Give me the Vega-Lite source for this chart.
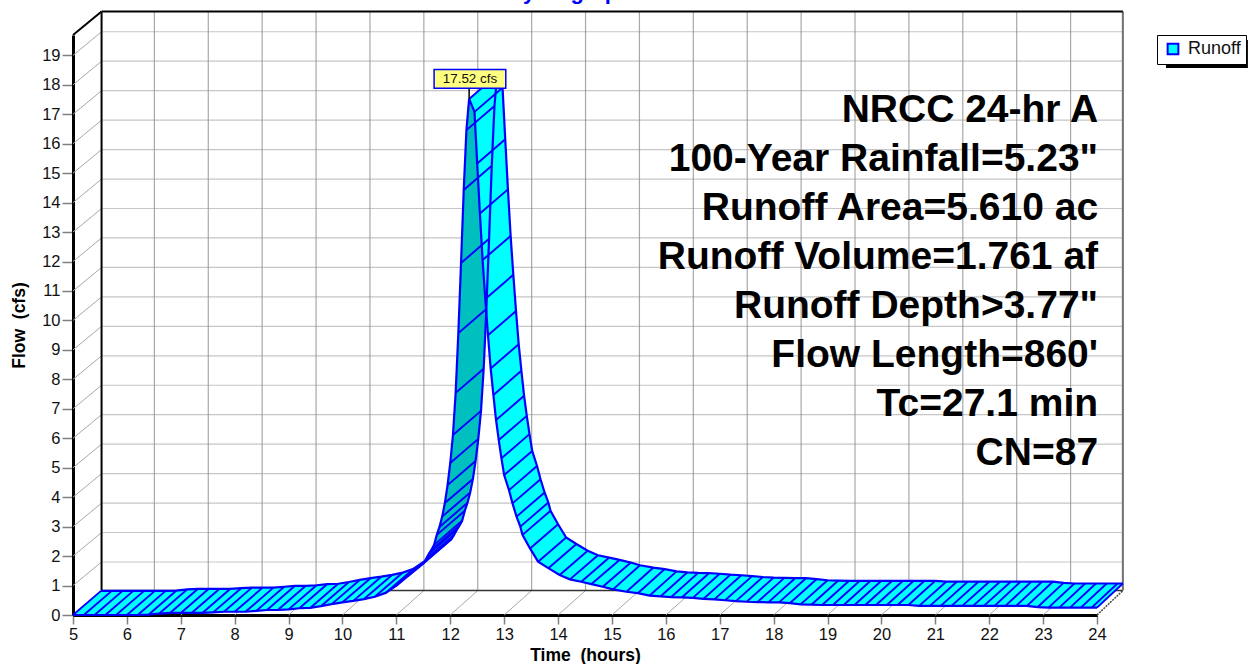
{"$schema":"https://vega.github.io/schema/vega-lite/v6.json","width":1024,"height":580,"autosize":{"type":"none"},"padding":{"left":73,"top":35,"right":151,"bottom":49},"background":"white","config":{"view":{"stroke":null},"font":"Liberation Sans"},
"datasets":{
"curve":[{"i":0,"o":0,"t":5,"q":0},{"i":1,"o":1,"t":5.2,"q":0},{"i":2,"o":2,"t":5.4,"q":0},{"i":3,"o":3,"t":5.6,"q":0},{"i":4,"o":4,"t":5.8,"q":0},{"i":5,"o":5,"t":6,"q":0},{"i":6,"o":6,"t":6.2,"q":0},{"i":7,"o":7,"t":6.4,"q":0.01},{"i":8,"o":8,"t":6.6,"q":0.05},{"i":9,"o":9,"t":6.8,"q":0.07},{"i":10,"o":10,"t":7,"q":0.07},{"i":11,"o":11,"t":7.2,"q":0.07},{"i":12,"o":12,"t":7.4,"q":0.07},{"i":13,"o":13,"t":7.6,"q":0.09},{"i":14,"o":14,"t":7.8,"q":0.11},{"i":15,"o":15,"t":8,"q":0.11},{"i":16,"o":16,"t":8.2,"q":0.11},{"i":17,"o":17,"t":8.4,"q":0.14},{"i":18,"o":18,"t":8.6,"q":0.17},{"i":19,"o":19,"t":8.8,"q":0.17},{"i":20,"o":20,"t":9,"q":0.19},{"i":21,"o":21,"t":9.2,"q":0.23},{"i":22,"o":22,"t":9.4,"q":0.24},{"i":23,"o":23,"t":9.6,"q":0.3},{"i":24,"o":24,"t":9.8,"q":0.37},{"i":25,"o":25,"t":10,"q":0.43},{"i":26,"o":26,"t":10.2,"q":0.48},{"i":27,"o":27,"t":10.4,"q":0.54},{"i":28,"o":28,"t":10.6,"q":0.62},{"i":29,"o":29,"t":10.8,"q":0.75},{"i":30,"o":30,"t":11,"q":1},{"i":31,"o":31,"t":11.2,"q":1.3},{"i":32,"o":32,"t":11.4,"q":1.6},{"i":33,"o":33,"t":11.5,"q":1.75},{"i":34,"o":34,"t":11.55,"q":1.9},{"i":35,"o":35,"t":11.6,"q":2.07},{"i":36,"o":36,"t":11.65,"q":2.21},{"i":37,"o":37,"t":11.7,"q":2.38},{"i":38,"o":38,"t":11.75,"q":2.72},{"i":39,"o":39,"t":11.8,"q":2.99},{"i":40,"o":40,"t":11.85,"q":3.34},{"i":41,"o":41,"t":11.9,"q":3.8},{"i":42,"o":42,"t":11.95,"q":4.41},{"i":43,"o":43,"t":12,"q":5.16},{"i":44,"o":44,"t":12.05,"q":6.11},{"i":45,"o":45,"t":12.1,"q":7.54},{"i":46,"o":46,"t":12.15,"q":9.57},{"i":47,"o":47,"t":12.2,"q":11.95},{"i":48,"o":48,"t":12.25,"q":14.43},{"i":49,"o":49,"t":12.3,"q":16.46},{"i":50,"o":50,"t":12.35,"q":17.52},{"i":51,"o":51,"t":12.45,"q":17.08},{"i":52,"o":52,"t":12.5,"q":15.33},{"i":53,"o":53,"t":12.55,"q":13.63},{"i":54,"o":54,"t":12.6,"q":12.05},{"i":55,"o":55,"t":12.65,"q":10.73},{"i":56,"o":56,"t":12.7,"q":9.5},{"i":57,"o":57,"t":12.75,"q":8.37},{"i":58,"o":58,"t":12.8,"q":7.47},{"i":59,"o":59,"t":12.85,"q":6.62},{"i":60,"o":60,"t":12.9,"q":5.94},{"i":61,"o":61,"t":12.95,"q":5.32},{"i":62,"o":62,"t":13,"q":4.75},{"i":63,"o":63,"t":13.09,"q":4.24},{"i":64,"o":64,"t":13.155,"q":3.79},{"i":65,"o":65,"t":13.23,"q":3.34},{"i":66,"o":66,"t":13.3,"q":3},{"i":67,"o":67,"t":13.34,"q":2.72},{"i":68,"o":68,"t":13.48,"q":2.26},{"i":69,"o":69,"t":13.63,"q":1.81},{"i":70,"o":70,"t":13.82,"q":1.59},{"i":71,"o":71,"t":14.03,"q":1.36},{"i":72,"o":72,"t":14.22,"q":1.21},{"i":73,"o":73,"t":14.43,"q":1.13},{"i":74,"o":74,"t":14.62,"q":1.05},{"i":75,"o":75,"t":14.83,"q":0.96},{"i":76,"o":76,"t":15.02,"q":0.87},{"i":77,"o":77,"t":15.27,"q":0.79},{"i":78,"o":78,"t":15.48,"q":0.74},{"i":79,"o":79,"t":15.7,"q":0.66},{"i":80,"o":80,"t":15.9,"q":0.63},{"i":81,"o":81,"t":16.1,"q":0.61},{"i":82,"o":82,"t":16.3,"q":0.6},{"i":83,"o":83,"t":16.5,"q":0.58},{"i":84,"o":84,"t":16.7,"q":0.55},{"i":85,"o":85,"t":16.9,"q":0.53},{"i":86,"o":86,"t":17.1,"q":0.5},{"i":87,"o":87,"t":17.3,"q":0.47},{"i":88,"o":88,"t":17.5,"q":0.45},{"i":89,"o":89,"t":17.7,"q":0.44},{"i":90,"o":90,"t":17.9,"q":0.43},{"i":91,"o":91,"t":18.1,"q":0.43},{"i":92,"o":92,"t":18.3,"q":0.4},{"i":93,"o":93,"t":18.5,"q":0.36},{"i":94,"o":94,"t":18.7,"q":0.35},{"i":95,"o":95,"t":18.9,"q":0.34},{"i":96,"o":96,"t":19.1,"q":0.34},{"i":97,"o":97,"t":19.3,"q":0.34},{"i":98,"o":98,"t":19.5,"q":0.34},{"i":99,"o":99,"t":19.7,"q":0.34},{"i":100,"o":100,"t":19.9,"q":0.34},{"i":101,"o":101,"t":20.1,"q":0.34},{"i":102,"o":102,"t":20.3,"q":0.34},{"i":103,"o":103,"t":20.5,"q":0.34},{"i":104,"o":104,"t":20.7,"q":0.31},{"i":105,"o":105,"t":20.9,"q":0.31},{"i":106,"o":106,"t":21.1,"q":0.31},{"i":107,"o":107,"t":21.3,"q":0.31},{"i":108,"o":108,"t":21.5,"q":0.31},{"i":109,"o":109,"t":21.7,"q":0.31},{"i":110,"o":110,"t":21.9,"q":0.31},{"i":111,"o":111,"t":22.1,"q":0.31},{"i":112,"o":112,"t":22.3,"q":0.31},{"i":113,"o":113,"t":22.5,"q":0.31},{"i":114,"o":114,"t":22.7,"q":0.31},{"i":115,"o":115,"t":22.9,"q":0.27},{"i":116,"o":116,"t":23.1,"q":0.25},{"i":117,"o":117,"t":23.3,"q":0.25},{"i":118,"o":118,"t":23.5,"q":0.25},{"i":119,"o":119,"t":23.7,"q":0.25},{"i":120,"o":120,"t":23.9,"q":0.25},{"i":121,"o":121,"t":24,"q":0.25},
{"i":121,"o":878,"t":24.48,"q":1.07},{"i":120,"o":879,"t":24.38,"q":1.07},{"i":119,"o":880,"t":24.18,"q":1.07},{"i":118,"o":881,"t":23.98,"q":1.07},{"i":117,"o":882,"t":23.78,"q":1.07},{"i":116,"o":883,"t":23.58,"q":1.07},{"i":115,"o":884,"t":23.38,"q":1.09},{"i":114,"o":885,"t":23.18,"q":1.13},{"i":113,"o":886,"t":22.98,"q":1.13},{"i":112,"o":887,"t":22.78,"q":1.13},{"i":111,"o":888,"t":22.58,"q":1.13},{"i":110,"o":889,"t":22.4,"q":1.13},{"i":109,"o":890,"t":22.2,"q":1.13},{"i":108,"o":891,"t":22,"q":1.13},{"i":107,"o":892,"t":21.8,"q":1.13},{"i":106,"o":893,"t":21.6,"q":1.13},{"i":105,"o":894,"t":21.4,"q":1.13},{"i":104,"o":895,"t":21.2,"q":1.13},{"i":103,"o":896,"t":21,"q":1.16},{"i":102,"o":897,"t":20.8,"q":1.16},{"i":101,"o":898,"t":20.6,"q":1.16},{"i":100,"o":899,"t":20.4,"q":1.16},{"i":99,"o":900,"t":20.2,"q":1.16},{"i":98,"o":901,"t":20,"q":1.16},{"i":97,"o":902,"t":19.8,"q":1.16},{"i":96,"o":903,"t":19.6,"q":1.16},{"i":95,"o":904,"t":19.4,"q":1.16},{"i":94,"o":905,"t":19.2,"q":1.17},{"i":93,"o":906,"t":19,"q":1.18},{"i":92,"o":907,"t":18.8,"q":1.22},{"i":91,"o":908,"t":18.6,"q":1.25},{"i":90,"o":909,"t":18.4,"q":1.25},{"i":89,"o":910,"t":18.2,"q":1.26},{"i":88,"o":911,"t":18,"q":1.27},{"i":87,"o":912,"t":17.8,"q":1.29},{"i":86,"o":913,"t":17.6,"q":1.32},{"i":85,"o":914,"t":17.4,"q":1.35},{"i":84,"o":915,"t":17.2,"q":1.37},{"i":83,"o":916,"t":17,"q":1.4},{"i":82,"o":917,"t":16.8,"q":1.42},{"i":81,"o":918,"t":16.6,"q":1.43},{"i":80,"o":919,"t":16.4,"q":1.45},{"i":79,"o":920,"t":16.2,"q":1.48},{"i":78,"o":921,"t":15.98,"q":1.56},{"i":77,"o":922,"t":15.77,"q":1.61},{"i":76,"o":923,"t":15.52,"q":1.69},{"i":75,"o":924,"t":15.35,"q":1.78},{"i":74,"o":925,"t":15.14,"q":1.87},{"i":73,"o":926,"t":14.95,"q":1.95},{"i":72,"o":927,"t":14.74,"q":2.03},{"i":71,"o":928,"t":14.55,"q":2.18},{"i":70,"o":929,"t":14.34,"q":2.41},{"i":69,"o":930,"t":14.15,"q":2.63},{"i":68,"o":931,"t":14,"q":3.08},{"i":67,"o":932,"t":13.86,"q":3.54},{"i":66,"o":933,"t":13.82,"q":3.82},{"i":65,"o":934,"t":13.75,"q":4.16},{"i":64,"o":935,"t":13.675,"q":4.61},{"i":63,"o":936,"t":13.61,"q":5.06},{"i":62,"o":937,"t":13.52,"q":5.57},{"i":61,"o":938,"t":13.47,"q":6.14},{"i":60,"o":939,"t":13.42,"q":6.76},{"i":59,"o":940,"t":13.37,"q":7.44},{"i":58,"o":941,"t":13.32,"q":8.29},{"i":57,"o":942,"t":13.27,"q":9.19},{"i":56,"o":943,"t":13.22,"q":10.32},{"i":55,"o":944,"t":13.17,"q":11.55},{"i":54,"o":945,"t":13.12,"q":12.87},{"i":53,"o":946,"t":13.07,"q":14.45},{"i":52,"o":947,"t":13.02,"q":16.15},{"i":51,"o":948,"t":12.97,"q":17.9},{"i":50,"o":949,"t":12.87,"q":18.34},{"i":49,"o":950,"t":12.82,"q":17.28},{"i":48,"o":951,"t":12.77,"q":15.25},{"i":47,"o":952,"t":12.72,"q":12.77},{"i":46,"o":953,"t":12.67,"q":10.39},{"i":45,"o":954,"t":12.62,"q":8.36},{"i":44,"o":955,"t":12.57,"q":6.93},{"i":43,"o":956,"t":12.52,"q":5.98},{"i":42,"o":957,"t":12.47,"q":5.23},{"i":41,"o":958,"t":12.42,"q":4.62},{"i":40,"o":959,"t":12.37,"q":4.16},{"i":39,"o":960,"t":12.32,"q":3.81},{"i":38,"o":961,"t":12.27,"q":3.54},{"i":37,"o":962,"t":12.22,"q":3.2},{"i":36,"o":963,"t":12.17,"q":3.03},{"i":35,"o":964,"t":12.12,"q":2.89},{"i":34,"o":965,"t":12.07,"q":2.72},{"i":33,"o":966,"t":12.02,"q":2.57},{"i":32,"o":967,"t":11.92,"q":2.42},{"i":31,"o":968,"t":11.72,"q":2.12},{"i":30,"o":969,"t":11.52,"q":1.82},{"i":29,"o":970,"t":11.32,"q":1.57},{"i":28,"o":971,"t":11.12,"q":1.44},{"i":27,"o":972,"t":10.92,"q":1.36},{"i":26,"o":973,"t":10.72,"q":1.3},{"i":25,"o":974,"t":10.52,"q":1.25},{"i":24,"o":975,"t":10.32,"q":1.19},{"i":23,"o":976,"t":10.12,"q":1.12},{"i":22,"o":977,"t":9.92,"q":1.06},{"i":21,"o":978,"t":9.72,"q":1.05},{"i":20,"o":979,"t":9.52,"q":1.01},{"i":19,"o":980,"t":9.32,"q":0.99},{"i":18,"o":981,"t":9.12,"q":0.99},{"i":17,"o":982,"t":8.92,"q":0.96},{"i":16,"o":983,"t":8.72,"q":0.93},{"i":15,"o":984,"t":8.52,"q":0.93},{"i":14,"o":985,"t":8.32,"q":0.93},{"i":13,"o":986,"t":8.12,"q":0.91},{"i":12,"o":987,"t":7.92,"q":0.89},{"i":11,"o":988,"t":7.72,"q":0.89},{"i":10,"o":989,"t":7.52,"q":0.89},{"i":9,"o":990,"t":7.32,"q":0.89},{"i":8,"o":991,"t":7.12,"q":0.87},{"i":7,"o":992,"t":6.92,"q":0.83},{"i":6,"o":993,"t":6.72,"q":0.82},{"i":5,"o":994,"t":6.52,"q":0.82},{"i":4,"o":995,"t":6.32,"q":0.82},{"i":3,"o":996,"t":6.12,"q":0.82},{"i":2,"o":997,"t":5.92,"q":0.82},{"i":1,"o":998,"t":5.72,"q":0.82},{"i":0,"o":999,"t":5.52,"q":0.82}],
"grid":[{"s":"h","a":5.53,"b":1.8,"c":24.48,"d":1.8},{"s":"h","a":5.53,"b":2.8,"c":24.48,"d":2.8},{"s":"h","a":5.53,"b":3.8,"c":24.48,"d":3.8},{"s":"h","a":5.53,"b":4.8,"c":24.48,"d":4.8},{"s":"h","a":5.53,"b":5.8,"c":24.48,"d":5.8},{"s":"h","a":5.53,"b":6.8,"c":24.48,"d":6.8},{"s":"h","a":5.53,"b":7.8,"c":24.48,"d":7.8},{"s":"h","a":5.53,"b":8.8,"c":24.48,"d":8.8},{"s":"h","a":5.53,"b":9.8,"c":24.48,"d":9.8},{"s":"h","a":5.53,"b":10.8,"c":24.48,"d":10.8},{"s":"h","a":5.53,"b":11.8,"c":24.48,"d":11.8},{"s":"h","a":5.53,"b":12.8,"c":24.48,"d":12.8},{"s":"h","a":5.53,"b":13.8,"c":24.48,"d":13.8},{"s":"h","a":5.53,"b":14.8,"c":24.48,"d":14.8},{"s":"h","a":5.53,"b":15.8,"c":24.48,"d":15.8},{"s":"h","a":5.53,"b":16.8,"c":24.48,"d":16.8},{"s":"h","a":5.53,"b":17.8,"c":24.48,"d":17.8},{"s":"h","a":5.53,"b":18.8,"c":24.48,"d":18.8},{"s":"h","a":5.53,"b":19.8,"c":24.48,"d":19.8},
{"s":"v","a":6.51,"b":0.83,"c":6.51,"d":20.49},{"s":"v","a":7.51,"b":0.83,"c":7.51,"d":20.49},{"s":"v","a":8.51,"b":0.83,"c":8.51,"d":20.49},{"s":"v","a":9.51,"b":0.83,"c":9.51,"d":20.49},{"s":"v","a":10.51,"b":0.83,"c":10.51,"d":20.49},{"s":"v","a":11.51,"b":0.83,"c":11.51,"d":20.49},{"s":"v","a":12.51,"b":0.83,"c":12.51,"d":20.49},{"s":"v","a":13.51,"b":0.83,"c":13.51,"d":20.49},{"s":"v","a":14.51,"b":0.83,"c":14.51,"d":20.49},{"s":"v","a":15.51,"b":0.83,"c":15.51,"d":20.49},{"s":"v","a":16.51,"b":0.83,"c":16.51,"d":20.49},{"s":"v","a":17.51,"b":0.83,"c":17.51,"d":20.49},{"s":"v","a":18.51,"b":0.83,"c":18.51,"d":20.49},{"s":"v","a":19.51,"b":0.83,"c":19.51,"d":20.49},{"s":"v","a":20.51,"b":0.83,"c":20.51,"d":20.49},{"s":"v","a":21.51,"b":0.83,"c":21.51,"d":20.49},{"s":"v","a":22.51,"b":0.83,"c":22.51,"d":20.49},{"s":"v","a":23.51,"b":0.83,"c":23.51,"d":20.49},
{"s":"d","a":5,"b":1,"c":5.53,"d":1.8},{"s":"d","a":5,"b":2,"c":5.53,"d":2.8},{"s":"d","a":5,"b":3,"c":5.53,"d":3.8},{"s":"d","a":5,"b":4,"c":5.53,"d":4.8},{"s":"d","a":5,"b":5,"c":5.53,"d":5.8},{"s":"d","a":5,"b":6,"c":5.53,"d":6.8},{"s":"d","a":5,"b":7,"c":5.53,"d":7.8},{"s":"d","a":5,"b":8,"c":5.53,"d":8.8},{"s":"d","a":5,"b":9,"c":5.53,"d":9.8},{"s":"d","a":5,"b":10,"c":5.53,"d":10.8},{"s":"d","a":5,"b":11,"c":5.53,"d":11.8},{"s":"d","a":5,"b":12,"c":5.53,"d":12.8},{"s":"d","a":5,"b":13,"c":5.53,"d":13.8},{"s":"d","a":5,"b":14,"c":5.53,"d":14.8},{"s":"d","a":5,"b":15,"c":5.53,"d":15.8},{"s":"d","a":5,"b":16,"c":5.53,"d":16.8},{"s":"d","a":5,"b":17,"c":5.53,"d":17.8},{"s":"d","a":5,"b":18,"c":5.53,"d":18.8},{"s":"d","a":5,"b":19,"c":5.53,"d":19.8},
{"s":"d","a":6,"b":0,"c":6.51,"d":0.83},{"s":"d","a":7,"b":0,"c":7.51,"d":0.83},{"s":"d","a":8,"b":0,"c":8.51,"d":0.83},{"s":"d","a":9,"b":0,"c":9.51,"d":0.83},{"s":"d","a":10,"b":0,"c":10.51,"d":0.83},{"s":"d","a":11,"b":0,"c":11.51,"d":0.83},{"s":"d","a":12,"b":0,"c":12.51,"d":0.83},{"s":"d","a":13,"b":0,"c":13.51,"d":0.83},{"s":"d","a":14,"b":0,"c":14.51,"d":0.83},{"s":"d","a":15,"b":0,"c":15.51,"d":0.83},{"s":"d","a":16,"b":0,"c":16.51,"d":0.83},{"s":"d","a":17,"b":0,"c":17.51,"d":0.83},{"s":"d","a":18,"b":0,"c":18.51,"d":0.83},{"s":"d","a":19,"b":0,"c":19.51,"d":0.83},{"s":"d","a":20,"b":0,"c":20.51,"d":0.83},{"s":"d","a":21,"b":0,"c":21.51,"d":0.83},{"s":"d","a":22,"b":0,"c":22.51,"d":0.83},{"s":"d","a":23,"b":0,"c":23.51,"d":0.83},
{"s":"k","a":5.53,"b":0.83,"c":5.53,"d":20.49},{"s":"k","a":5.53,"b":20.49,"c":24.48,"d":20.49},{"s":"k","a":5,"b":19.69,"c":5.53,"d":20.49},
{"s":"r","a":24.48,"b":0.83,"c":24.48,"d":20.49},{"s":"f","a":5.53,"b":0.83,"c":24.48,"d":0.83},{"s":"e","a":24,"b":0,"c":24.48,"d":0.83}],
"notes":[{"label":"NRCC 24-hr A","t":24.02,"q":17.14},{"label":"100-Year Rainfall=5.23\"","t":24.02,"q":15.48},{"label":"Runoff Area=5.610 ac","t":24.02,"q":13.81},{"label":"Runoff Volume=1.761 af","t":24.02,"q":12.15},{"label":"Runoff Depth>3.77\"","t":24.02,"q":10.49},{"label":"Flow Length=860'","t":24.02,"q":8.82},{"label":"Tc=27.1 min","t":24.02,"q":7.16},{"label":"CN=87","t":24.02,"q":5.5}]
},
"layer":[
{"data":{"name":"grid"},"transform":[{"filter":"datum.s==='v'"}],"mark":{"type":"rule","color":"#a8a8a8","strokeWidth":1.2},"encoding":{
"x":{"field":"a","type":"quantitative","scale":{"domain":[5,24],"nice":false,"zero":false},"title":"Time\u00a0\u00a0(hours)","axis":{"tickCount":95,"grid":false,"format":"d","labelExpr":"abs(round(datum.value)-datum.value)<0.001 ? round(datum.value) : ''","labelOverlap":false,"labelFlush":false,"labelFontSize":16.5,"labelColor":"#111111","labelPadding":2,"tickColor":"#808080","tickWidth":1.5,"tickSize":{"condition":{"test":"abs(round(datum.value)-datum.value)<0.001","value":9},"value":5},"domainColor":"#000000","domainWidth":3,"titleFontSize":17.5,"titleFontWeight":"bold","titleColor":"#000000","titlePadding":4,"zindex":0}},
"y":{"field":"b","type":"quantitative","scale":{"domain":[0,19.69],"nice":false,"zero":false},"title":"Flow\u00a0\u00a0(cfs)","axis":{"tickCount":98,"grid":false,"format":"d","labelExpr":"abs(round(datum.value)-datum.value)<0.001 ? round(datum.value) : ''","labelOverlap":false,"labelFontSize":16.5,"labelColor":"#111111","labelPadding":2,"tickColor":"#808080","tickWidth":1.5,"tickSize":{"condition":{"test":"abs(round(datum.value)-datum.value)<0.001","value":11},"value":6},"domainColor":"#000000","domainWidth":3,"titleFontSize":17.5,"titleFontWeight":"bold","titleColor":"#000000","titlePadding":13,"zindex":0}},
"x2":{"field":"c"},"y2":{"field":"d"}}},
{"data":{"name":"grid"},"transform":[{"filter":"datum.s==='h'"}],"mark":{"type":"rule","color":"#8c8c8c","strokeWidth":1.2,"strokeDash":[1,1]},"encoding":{"x":{"field":"a","type":"quantitative"},"y":{"field":"b","type":"quantitative"},"x2":{"field":"c"},"y2":{"field":"d"}}},
{"data":{"name":"grid"},"transform":[{"filter":"datum.s==='d'"}],"mark":{"type":"rule","color":"#a8a8a8","strokeWidth":1},"encoding":{"x":{"field":"a","type":"quantitative"},"y":{"field":"b","type":"quantitative"},"x2":{"field":"c"},"y2":{"field":"d"}}},
{"data":{"name":"grid"},"transform":[{"filter":"datum.s==='f'"}],"mark":{"type":"rule","color":"#333333","strokeWidth":1.5},"encoding":{"x":{"field":"a","type":"quantitative"},"y":{"field":"b","type":"quantitative"},"x2":{"field":"c"},"y2":{"field":"d"}}},
{"data":{"name":"grid"},"transform":[{"filter":"datum.s==='e'"}],"mark":{"type":"rule","color":"#444444","strokeWidth":1.5,"strokeDash":[2,1]},"encoding":{"x":{"field":"a","type":"quantitative"},"y":{"field":"b","type":"quantitative"},"x2":{"field":"c"},"y2":{"field":"d"}}},
{"data":{"name":"grid"},"transform":[{"filter":"datum.s==='r'"}],"mark":{"type":"rule","color":"#707070","strokeWidth":2},"encoding":{"x":{"field":"a","type":"quantitative"},"y":{"field":"b","type":"quantitative"},"x2":{"field":"c"},"y2":{"field":"d"}}},
{"data":{"name":"grid"},"transform":[{"filter":"datum.s==='k'"}],"mark":{"type":"rule","color":"#000000","strokeWidth":2},"encoding":{"x":{"field":"a","type":"quantitative"},"y":{"field":"b","type":"quantitative"},"x2":{"field":"c"},"y2":{"field":"d"}}},
{"data":{"name":"curve"},"mark":{"type":"line","fill":"#00FFFF","stroke":null,"strokeWidth":0},"encoding":{"x":{"field":"t","type":"quantitative"},"y":{"field":"q","type":"quantitative"},"order":{"field":"o"}}},
{"data":{"name":"curve"},"transform":[{"filter":"datum.i>=33 && datum.i<=50"}],"mark":{"type":"line","fill":"#00BFBF","stroke":null,"strokeWidth":0},"encoding":{"x":{"field":"t","type":"quantitative"},"y":{"field":"q","type":"quantitative"},"order":{"field":"o"}}},
{"data":{"name":"curve"},"transform":[{"filter":"datum.i>=50"}],"mark":{"type":"line","fill":"#00FFFF","stroke":null,"strokeWidth":0},"encoding":{"x":{"field":"t","type":"quantitative"},"y":{"field":"q","type":"quantitative"},"order":{"field":"o"}}},
{"data":{"name":"curve"},"transform":[{"filter":"datum.o<500"}],"mark":{"type":"line","color":"#0000FF","strokeWidth":2.2},"encoding":{"x":{"field":"t","type":"quantitative"},"y":{"field":"q","type":"quantitative"},"order":{"field":"o"}}},
{"data":{"name":"curve"},"transform":[{"filter":"datum.o>=500"}],"mark":{"type":"line","color":"#0000FF","strokeWidth":2.2},"encoding":{"x":{"field":"t","type":"quantitative"},"y":{"field":"q","type":"quantitative"},"order":{"field":"o"}}},
{"data":{"name":"curve"},"mark":{"type":"line","color":"#0000FF","strokeWidth":1.9},"encoding":{"x":{"field":"t","type":"quantitative"},"y":{"field":"q","type":"quantitative"},"detail":{"field":"i"},"order":{"field":"o"}}},
{"data":{"values":[{"t":12.35,"q":17.52,"q2":17.95}]},"mark":{"type":"rule","color":"#000000","strokeWidth":1.5},"encoding":{"x":{"field":"t","type":"quantitative"},"y":{"field":"q","type":"quantitative"},"y2":{"field":"q2"}}},
{"data":{"values":[{"a":11.7,"b":18.52,"c":13.03,"d":17.88}]},"mark":{"type":"rect","fill":"#FFFF80","stroke":"#0000FF","strokeWidth":1.5},"encoding":{"x":{"field":"a","type":"quantitative"},"y":{"field":"b","type":"quantitative"},"x2":{"field":"c"},"y2":{"field":"d"}}},
{"data":{"values":[{"label":"17.52 cfs","t":12.365,"q":18.2}]},"mark":{"type":"text","fontSize":13.4,"color":"#111111","baseline":"middle","align":"center"},"encoding":{"x":{"field":"t","type":"quantitative"},"y":{"field":"q","type":"quantitative"},"text":{"field":"label"}}},
{"data":{"name":"notes"},"mark":{"type":"text","fontSize":39,"fontWeight":"bold","align":"right","baseline":"middle","color":"#000000"},"encoding":{"x":{"field":"t","type":"quantitative"},"y":{"field":"q","type":"quantitative"},"text":{"field":"label"}}},
{"data":{"values":[{"label":"Hydrograph","t":14.21,"q":20.92}]},"mark":{"type":"text","fontSize":22,"fontWeight":"bold","align":"center","baseline":"alphabetic","color":"#0000FF"},"encoding":{"x":{"field":"t","type":"quantitative"},"y":{"field":"q","type":"quantitative"},"text":{"field":"label"}}},
{"data":{"values":[{"a":25.28,"b":19.52,"c":26.8,"d":18.57}]},"mark":{"type":"rect","fill":"#000000"},"encoding":{"x":{"field":"a","type":"quantitative"},"y":{"field":"b","type":"quantitative"},"x2":{"field":"c"},"y2":{"field":"d"}}},
{"data":{"values":[{"series":"Runoff","t":30,"q":30}]},"mark":{"type":"point","shape":"square","filled":true,"opacity":0},"encoding":{"x":{"field":"t","type":"quantitative"},"y":{"field":"q","type":"quantitative"},"fill":{"field":"series","type":"nominal","scale":{"domain":["Runoff"],"range":["#00FFFF"]},"legend":{"title":null,"orient":"none","legendX":1084,"legendY":0,"fillColor":"#FFFFFF","strokeColor":"#000000","padding":5,"symbolType":"square","symbolSize":115,"symbolStrokeColor":"#0000FF","symbolStrokeWidth":2,"symbolOpacity":1,"symbolOffset":2,"labelFontSize":18,"labelColor":"#111111","labelOffset":6}}}}
]}
